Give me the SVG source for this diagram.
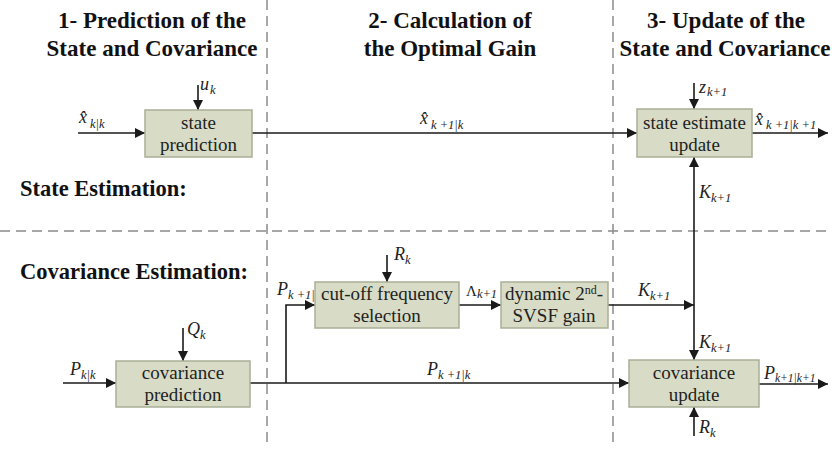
<svg xmlns="http://www.w3.org/2000/svg" width="832" height="450" viewBox="0 0 832 450">
<defs>
<marker id="ah" viewBox="0 0 10 10" refX="10" refY="5" markerWidth="10" markerHeight="10" markerUnits="userSpaceOnUse" orient="auto">
<path d="M0,0 L10,5 L0,10 z" fill="#1a1a1a"/>
</marker>
<style>
text{font-family:'Liberation Serif','Times New Roman','DejaVu Serif',serif;}
.title{font-weight:bold;font-size:23px;fill:#111;}
.sec{font-weight:bold;font-size:22.5px;fill:#111;}
.box{fill:#d8dcc6;stroke:#a9ae96;stroke-width:1.5;}
.bt{font-size:19px;fill:#222;text-anchor:middle;}
.m{font-style:italic;font-size:18px;fill:#222;}
.s{font-size:12.5px;}
.dash{stroke:#8a8a8a;stroke-width:1.5;stroke-dasharray:10,6;fill:none;}
.a{stroke:#1a1a1a;stroke-width:1.6;fill:none;marker-end:url(#ah);}
</style>
</defs>
<rect width="832" height="450" fill="#fff"/>

<g id="grid">
<line class="dash" x1="267" y1="0" x2="267" y2="445"/>
<line class="dash" x1="613" y1="0" x2="613" y2="445"/>
<line class="dash" x1="0" y1="231" x2="832" y2="231"/>
</g>

<g id="titles">
<text class="title" x="152" y="28" text-anchor="middle">1- Prediction of the</text>
<text class="title" x="152" y="56" text-anchor="middle">State and Covariance</text>
<text class="title" x="450" y="28" text-anchor="middle">2- Calculation of</text>
<text class="title" x="450" y="56" text-anchor="middle">the Optimal Gain</text>
<text class="title" x="726" y="28" text-anchor="middle">3- Update of the</text>
<text class="title" x="725" y="56" text-anchor="middle">State and Covariance</text>
<text class="sec" x="20" y="196">State Estimation:</text>
<text class="sec" x="20" y="279">Covariance Estimation:</text>
</g>

<g id="connectors">
<line class="a" x1="78" y1="133" x2="145" y2="133"/>
<line class="a" x1="198" y1="85" x2="198" y2="110"/>
<line class="a" x1="252" y1="133" x2="637" y2="133"/>
<line class="a" x1="694" y1="83" x2="694" y2="109"/>
<line class="a" x1="752" y1="133" x2="828" y2="133"/>
<line class="a" x1="694" y1="305" x2="694" y2="157"/>
<line class="a" x1="63" y1="383" x2="116" y2="383"/>
<line class="a" x1="183" y1="328" x2="183" y2="361"/>
<line class="a" x1="250" y1="383" x2="629" y2="383"/>
<polyline class="a" points="286,383 286,305 315,305"/>
<line class="a" x1="387" y1="255" x2="387" y2="282"/>
<line class="a" x1="459" y1="305" x2="501" y2="305"/>
<line class="a" x1="608" y1="305" x2="694" y2="305"/>
<line class="a" x1="694" y1="305" x2="694" y2="360"/>
<line class="a" x1="694" y1="436" x2="694" y2="407"/>
<line class="a" x1="759" y1="384" x2="828" y2="384"/>
</g>

<g id="labels">
<text class="m" x="79" y="123">x&#770;<tspan class="s" dx="3" dy="5">k|k</tspan></text>
<text class="m" x="200" y="90">u<tspan class="s" dx="1" dy="4">k</tspan></text>
<text class="m" x="420" y="124">x&#770;<tspan class="s" dx="3" dy="5">k +1|k</tspan></text>
<text class="m" x="699" y="93">z<tspan class="s" dx="1" dy="3">k+1</tspan></text>
<text class="m" x="755" y="125">x&#770;<tspan class="s" dx="3" dy="4">k +1|k +1</tspan></text>
<text class="m" x="699" y="198">K<tspan class="s" dy="4">k+1</tspan></text>
<text class="m" x="277" y="295">P<tspan class="s" dy="4">k +1|k</tspan></text>
<text class="m" x="394" y="260">R<tspan class="s" dy="4">k</tspan></text>
<text class="m" x="466" y="296" style="font-style:normal;font-size:15px">&#923;<tspan class="s" dy="2" style="font-style:italic">k+1</tspan></text>
<text class="m" x="638" y="296">K<tspan class="s" dy="4">k+1</tspan></text>
<text class="m" x="699" y="348">K<tspan class="s" dy="4">k+1</tspan></text>
<text class="m" x="764" y="379">P<tspan class="s" dy="3" style="font-size:11.5px">k+1|k+1</tspan></text>
<text class="m" x="699" y="433">R<tspan class="s" dy="4">k</tspan></text>
<text class="m" x="70" y="375">P<tspan class="s" dy="4">k|k</tspan></text>
<text class="m" x="187" y="335">Q<tspan class="s" dy="4">k</tspan></text>
<text class="m" x="427" y="375">P<tspan class="s" dy="4">k +1|k</tspan></text>
</g>

<g id="state-prediction">
<rect class="box" x="145" y="110" width="107" height="47"/>
<text class="bt" x="198.5" y="129">state</text>
<text class="bt" x="198.5" y="151">prediction</text>
</g>

<g id="state-estimate-update">
<rect class="box" x="637" y="109" width="115" height="48"/>
<text class="bt" x="694.5" y="129">state estimate</text>
<text class="bt" x="694.5" y="151">update</text>
</g>

<g id="covariance-prediction">
<rect class="box" x="116" y="361" width="134" height="46"/>
<text class="bt" x="183" y="379">covariance</text>
<text class="bt" x="183" y="401">prediction</text>
</g>

<g id="cutoff-frequency-selection">
<rect class="box" x="315" y="282" width="144" height="46"/>
<text class="bt" x="387" y="300">cut-off frequency</text>
<text class="bt" x="387" y="322">selection</text>
</g>

<g id="dynamic-svsf-gain">
<rect class="box" x="501" y="282" width="107" height="46"/>
<text class="bt" x="554" y="300">dynamic 2<tspan font-size="12" dy="-6">nd</tspan><tspan dy="6">-</tspan></text>
<text class="bt" x="554" y="322">SVSF gain</text>
</g>

<g id="covariance-update">
<rect class="box" x="629" y="360" width="130" height="47"/>
<text class="bt" x="694" y="379">covariance</text>
<text class="bt" x="694" y="401">update</text>
</g>
</svg>
